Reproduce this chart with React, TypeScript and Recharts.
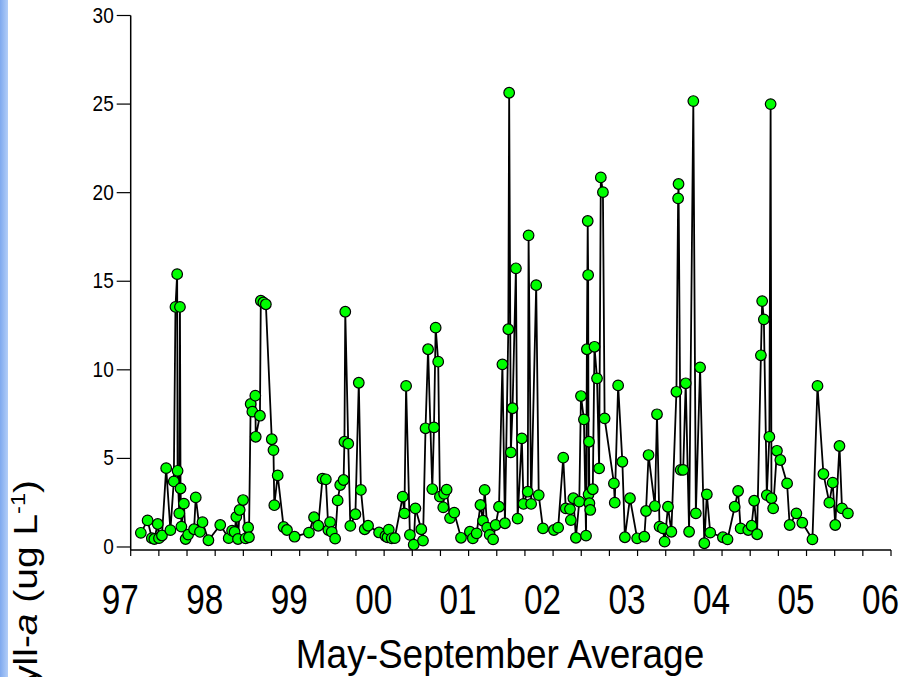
import { Line, LineChart, XAxis, YAxis } from "recharts";

// Sampling dates as decimal years, chlorophyll-a in ug/L
const sampleDates = [
  1997.12, 1997.2, 1997.25, 1997.28, 1997.32, 1997.335, 1997.37, 1997.42, 1997.47, 1997.51,
  1997.53, 1997.55, 1997.555, 1997.575, 1997.583, 1997.59, 1997.6, 1997.63, 1997.65, 1997.68,
  1997.75, 1997.77, 1997.82, 1997.85, 1997.92,
  1998.06, 1998.16, 1998.2, 1998.23, 1998.25, 1998.27, 1998.29, 1998.33, 1998.36, 1998.39,
  1998.4, 1998.42, 1998.44, 1998.475, 1998.48, 1998.53, 1998.54, 1998.57, 1998.6, 1998.67,
  1998.69, 1998.7, 1998.74, 1998.81, 1998.85, 1998.94,
  1999.11, 1999.17, 1999.22, 1999.27, 1999.31, 1999.34, 1999.36, 1999.38, 1999.42, 1999.45,
  1999.48, 1999.52, 1999.53, 1999.54, 1999.575, 1999.6, 1999.66, 1999.7, 1999.725, 1999.77,
  1999.81, 1999.94,
  2000.015, 2000.04, 2000.055, 2000.09, 2000.125, 2000.22, 2000.24, 2000.26, 2000.305, 2000.35,
  2000.37, 2000.44, 2000.46, 2000.49, 2000.52, 2000.57, 2000.59, 2000.61, 2000.64, 2000.66,
  2000.7, 2000.71, 2000.74, 2000.78, 2000.83, 2000.91,
  2001.015, 2001.05, 2001.095, 2001.14, 2001.17, 2001.19, 2001.22, 2001.25, 2001.29, 2001.32,
  2001.36, 2001.4, 2001.43, 2001.47, 2001.48, 2001.5, 2001.52, 2001.56, 2001.58, 2001.63,
  2001.65, 2001.7, 2001.71, 2001.74, 2001.8, 2001.83, 2001.88,
  2002.01, 2002.06, 2002.12, 2002.15, 2002.2, 2002.21, 2002.24, 2002.27, 2002.31, 2002.33,
  2002.365, 2002.39, 2002.4, 2002.41, 2002.415, 2002.42, 2002.425, 2002.43, 2002.44, 2002.47,
  2002.49, 2002.52, 2002.545, 2002.565, 2002.59, 2002.61, 2002.72, 2002.73, 2002.77, 2002.82,
  2002.85, 2002.91, 2002.995,
  2003.08, 2003.1, 2003.13, 2003.205, 2003.23, 2003.26, 2003.3, 2003.32, 2003.36, 2003.4,
  2003.46, 2003.48, 2003.485, 2003.51, 2003.54, 2003.57, 2003.61, 2003.66, 2003.69, 2003.74,
  2003.79, 2003.82, 2003.86,
  2004.01, 2004.065, 2004.15, 2004.19, 2004.22, 2004.31, 2004.35, 2004.38, 2004.415, 2004.46,
  2004.475, 2004.495, 2004.53, 2004.56, 2004.575, 2004.585, 2004.605, 2004.65, 2004.69, 2004.77,
  2004.8, 2004.88, 2004.95,
  2005.07, 2005.13, 2005.2, 2005.27, 2005.31, 2005.34, 2005.39, 2005.42, 2005.49,
];

const chlorophyll = [
  0.8, 1.5, 0.5, 0.45, 1.3, 0.5, 0.65, 4.45, 0.95, 3.7,
  13.55, 15.4, 4.3, 1.9, 13.55, 3.3, 1.15, 2.45, 0.45, 0.7,
  1.0, 2.8, 0.85, 1.4, 0.38,
  1.24, 0.5, 0.92, 0.85, 1.7, 0.45, 2.09, 2.65, 0.49, 1.1,
  0.55, 8.07, 7.64, 8.54, 6.22, 7.41, 13.9, 13.8, 13.7, 6.08,
  5.47, 2.36, 4.04, 1.13, 0.96, 0.58,
  0.81, 1.68, 1.2, 3.86, 3.82, 0.96, 1.4, 0.85, 0.47, 2.63,
  3.5, 3.78, 5.94, 13.28, 5.83, 1.19, 1.85, 9.27, 3.22, 1.0,
  1.2, 0.82,
  0.62, 0.55, 0.98, 0.49, 0.5, 2.84, 1.9, 9.09, 0.68, 0.13,
  2.18, 1.0, 0.36, 6.7, 11.16, 3.27, 6.75, 12.38, 10.46, 2.84,
  2.24, 3.0, 3.24, 1.63, 1.94, 0.52,
  0.86, 0.49, 0.77, 2.37, 1.48, 3.22, 1.09, 0.68, 0.43, 1.24,
  2.27, 10.31, 1.34, 12.29, 25.64, 5.34, 7.83, 15.73, 1.6, 6.13,
  2.43, 3.12, 17.59, 2.43, 14.78, 2.93, 1.05,
  0.96, 1.09, 5.04, 2.18, 2.14, 1.52, 2.75, 0.52, 2.56, 8.52,
  7.2, 0.64, 11.16, 18.4, 15.35, 2.97, 5.94, 2.47, 2.09, 3.26,
  11.3, 9.52, 4.44, 20.86, 20.03, 7.26, 3.59, 2.5, 9.12, 4.81,
  0.55, 2.75, 0.49,
  0.58, 2.03, 5.19, 2.31, 7.49, 1.15, 1.05, 0.3, 2.27, 0.86,
  8.76, 19.68, 20.49, 4.35, 4.35, 9.24, 0.86, 25.17, 1.9, 10.14,
  0.21, 2.97, 0.81,
  0.55, 0.43, 2.27, 3.16, 1.05, 0.96, 1.2, 2.61, 0.72, 10.82,
  13.88, 12.85, 2.93, 6.22, 25.0, 2.75, 2.18, 5.43, 4.91, 3.59,
  1.24, 1.9, 1.37,
  0.43, 9.09, 4.12, 2.5, 3.63, 1.24, 5.7, 2.18, 1.9,
];

const years = [1997, 1998, 1999, 2000, 2001, 2002, 2003, 2004, 2005, 2006];
const yearLabels = ["97", "98", "99", "00", "01", "02", "03", "04", "05", "06"];
const yTicks = [0, 5, 10, 15, 20, 25, 30];

// minor ticks every four months between the labelled years
const xTicks: number[] = [];
years.forEach((yr, i) => {
  xTicks.push(yr);
  if (i < years.length - 1) {
    xTicks.push(yr + 1 / 3, yr + 2 / 3);
  }
});

const rows = sampleDates.map((t, i) => ({ t, v: chlorophyll[i] }));

const FONT = '"Liberation Sans", Arial, sans-serif';

function YearTick(props: any) {
  const { x, payload } = props;
  const v = payload.value as number;
  const idx = years.findIndex((yr) => Math.abs(yr - v) < 1e-6);
  if (idx < 0) return null;
  return (
    <text
      transform={`translate(${x - 10.5},614) scale(0.9,1.15)`}
      textAnchor="middle"
      fontSize={37}
      fontFamily={FONT}
      fill="#000"
    >
      {yearLabels[idx]}
    </text>
  );
}

function ValueTick(props: any) {
  const { x, y, payload } = props;
  return (
    <text
      transform={`translate(${x},${y + 7}) scale(1,1.12)`}
      textAnchor="end"
      fontSize={19}
      fontFamily={FONT}
      fill="#000"
    >
      {payload.value}
    </text>
  );
}

function XTitle() {
  return (
    <text
      transform="translate(500,668) scale(1,1.08)"
      textAnchor="middle"
      fontSize={37}
      fontFamily={FONT}
      fill="#000"
    >
      May-September Average
    </text>
  );
}

function YTitle() {
  return (
    <text
      transform="translate(37,480) rotate(-90) scale(1.18,1)"
      textAnchor="end"
      fontSize={33}
      fontFamily={FONT}
      fill="#000"
    >
      Chlorophyll-<tspan fontStyle="italic">a</tspan> (ug L
      <tspan dy={-12} fontSize={20}>-1</tspan>
      <tspan dy={12}>)</tspan>
    </text>
  );
}

export default function App() {
  return (
    <div
      style={{
        position: "absolute",
        left: 0,
        top: 0,
        width: 903,
        height: 677,
        background: "#fff",
        overflow: "hidden",
      }}
    >
      <div
        style={{
          position: "absolute",
          left: 0,
          top: 0,
          width: 8,
          height: 677,
          background: "linear-gradient(to right, #7fa9ee, #b3cef8)",
        }}
      />
      <LineChart
        width={903}
        height={677}
        data={rows}
        margin={{ top: 15.5, right: 12, bottom: 0, left: 0 }}
      >
        <XAxis
          type="number"
          dataKey="t"
          domain={[1997, 2006]}
          ticks={xTicks}
          interval={0}
          allowDataOverflow
          height={127}
          tickSize={6}
          axisLine={{ stroke: "#000", strokeWidth: 1.5 }}
          tickLine={{ stroke: "#000", strokeWidth: 1.2 }}
          tick={<YearTick />}
          label={<XTitle />}
        />
        <YAxis
          type="number"
          domain={[-0.17, 30]}
          ticks={yTicks}
          interval={0}
          allowDataOverflow
          width={130.7}
          tickSize={14}
          tickMargin={3}
          axisLine={{ stroke: "#000", strokeWidth: 1.5 }}
          tickLine={{ stroke: "#000", strokeWidth: 1.2 }}
          tick={<ValueTick />}
          label={<YTitle />}
        />
        <Line
          type="linear"
          dataKey="v"
          stroke="#000"
          strokeWidth={1.8}
          dot={{ r: 5.3, fill: "#00ff00", stroke: "#000", strokeWidth: 1.2 }}
          isAnimationActive={false}
        />
      </LineChart>
    </div>
  );
}
